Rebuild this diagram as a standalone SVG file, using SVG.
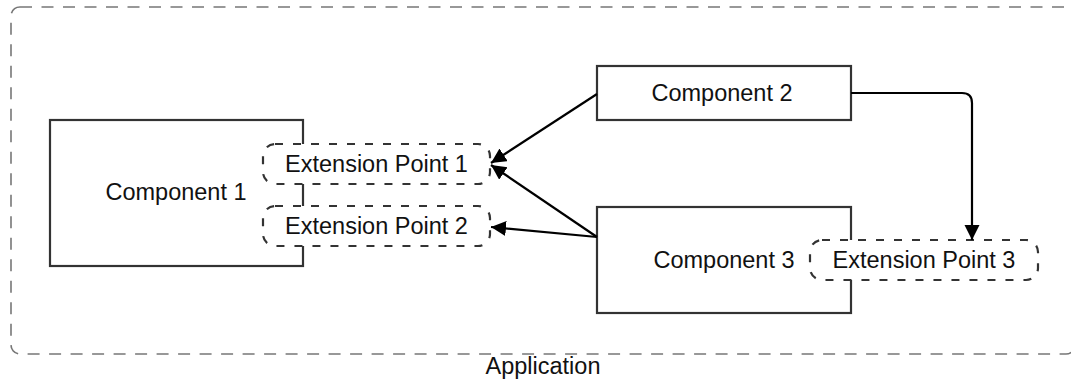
<svg xmlns="http://www.w3.org/2000/svg" width="1071" height="381" viewBox="0 0 1071 381">
<style>
.txt{font-family:"Liberation Sans",Arial,sans-serif;font-size:23.5px;fill:#111;text-anchor:middle;dominant-baseline:central}
.comp{fill:#fff;stroke:#333;stroke-width:2.2}
.ep{fill:#fff;stroke:#333;stroke-width:2.2;stroke-dasharray:8 10}
.edge{fill:none;stroke:#000;stroke-width:2.2}
</style>
<defs>
<marker id="arr" markerUnits="userSpaceOnUse" markerWidth="16" markerHeight="16" refX="15" refY="7.5" orient="auto">
<path d="M0,0 L15,7.5 L0,15 z" fill="#000"/>
</marker>
</defs>
<g id="application">
<rect x="11" y="7" width="1064" height="347" rx="9" fill="none" stroke="#777" stroke-width="1.6" stroke-dasharray="12 9.5"/>
<text class="txt" x="543" y="366">Application</text>
</g>
<g id="component1">
<rect class="comp" x="50" y="120" width="253" height="146"/>
<text class="txt" x="176" y="192">Component 1</text>
</g>
<g id="component2">
<rect class="comp" x="597" y="66" width="254" height="54"/>
<text class="txt" x="722" y="93">Component 2</text>
</g>
<g id="component3">
<rect class="comp" x="597" y="207" width="254" height="106"/>
<text class="txt" x="724" y="260">Component 3</text>
</g>
<g id="ep1">
<rect class="ep" x="263" y="144" width="227" height="40" rx="12"/>
<text class="txt" x="376.5" y="164">Extension Point 1</text>
</g>
<g id="ep2">
<rect class="ep" x="263" y="206" width="227" height="40" rx="12"/>
<text class="txt" x="376.5" y="226">Extension Point 2</text>
</g>
<g id="ep3">
<rect class="ep" x="810" y="240" width="228" height="40" rx="12"/>
<text class="txt" x="924" y="260">Extension Point 3</text>
</g>
<g id="connectors">
<path class="edge" d="M597,94 L491,163" marker-end="url(#arr)"/>
<path class="edge" d="M597,237 L491,165" marker-end="url(#arr)"/>
<path class="edge" d="M597,237 L491,227" marker-end="url(#arr)"/>
<path class="edge" d="M851,93 L962,93 Q972,93 972,103 L972,240" marker-end="url(#arr)"/>
</g>
</svg>
